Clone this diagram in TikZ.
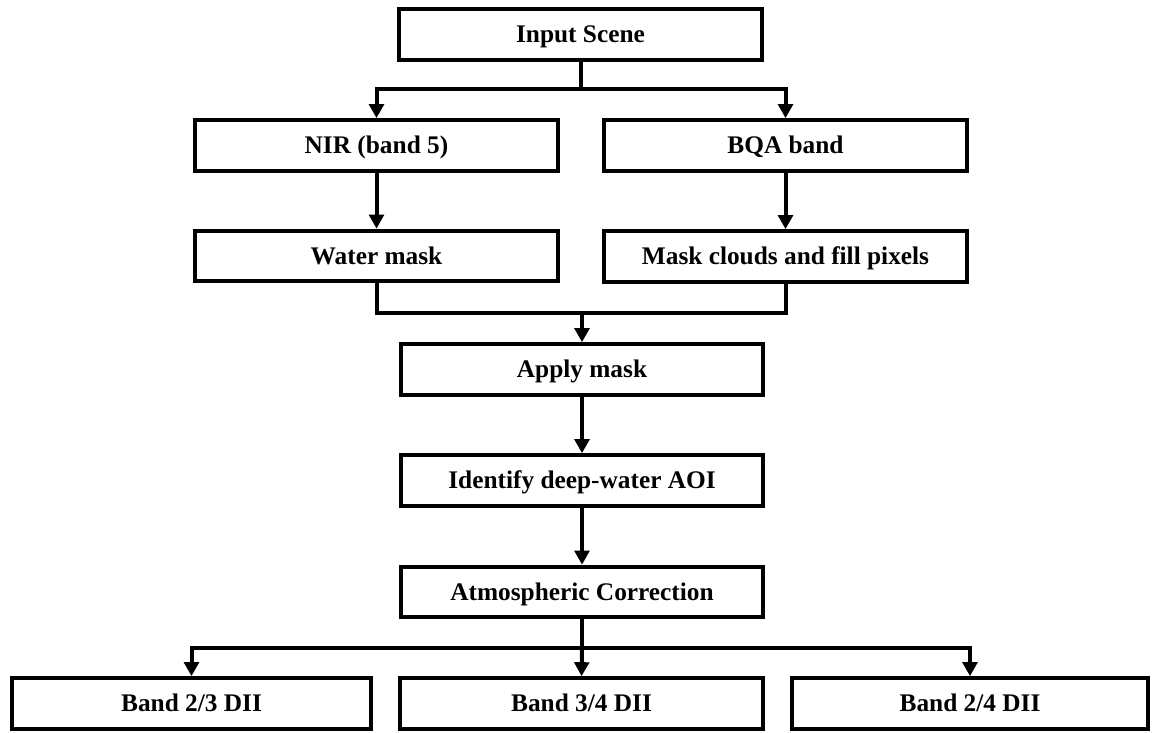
\documentclass[tikz,border=0pt]{standalone}
\usepackage{fontspec}
\setmainfont{Liberation Serif}
\usetikzlibrary{arrows.meta}
\tikzset{
  flowbox/.style={draw=black, line width=3pt, rectangle, fill=white,
    minimum width=272pt, minimum height=38pt, inner sep=0pt,
    text height=12.6pt, text depth=0pt,
    font=\fontsize{19}{22}\selectfont\bfseries},
  conn/.style={draw=black, line width=3pt},
  arr/.style={conn, -{Triangle[length=10.5pt,width=11pt]}}
}
\begin{document}
\begin{tikzpicture}[x=0.75pt, y=-0.75pt]
\useasboundingbox (0,0) rectangle (1153,732);
\node[flowbox] (in)  at (580.5,34.5) {Input Scene};
\node[flowbox] (nir) at (376.5,145.5) {NIR (band 5)};
\node[flowbox] (bqa) at (785.5,145.5) {BQA band};
\node[flowbox] (wat) at (376.5,256) {Water mask};
\node[flowbox] (msk) at (785.5,256.5) {Mask clouds and fill pixels};
\node[flowbox] (app) at (582,369.5) {Apply mask};
\node[flowbox] (idf) at (582,480.5) {Identify deep-water AOI};
\node[flowbox] (atm) at (582,592) {Atmospheric Correction};
\node[flowbox, minimum width=269pt] (b1) at (191.5,703.5) {Band 2/3 DII};
\node[flowbox] (b2) at (581.5,703.5) {Band 3/4 DII};
\node[flowbox, minimum width=267pt] (b3) at (970,703.5) {Band 2/4 DII};
\coordinate (s1) at (580.5,89);
\coordinate (m1) at (582,313);
\coordinate (s2) at (582,648);
\draw[conn] (in.south) -- (s1);
\draw[arr] (s1) -| (nir.north);
\draw[arr] (s1) -| (bqa.north);
\draw[arr] (nir.south) -- (wat.north);
\draw[arr] (bqa.south) -- (msk.north);
\draw[conn] (wat.south) |- (m1) -| (msk.south);
\draw[arr] (m1) -- (app.north);
\draw[arr] (app.south) -- (idf.north);
\draw[arr] (idf.south) -- (atm.north);
\draw[conn] (atm.south) -- (s2);
\draw[arr] (s2) -| (b1.north);
\draw[arr] (s2) -- (b2.north);
\draw[arr] (s2) -| (b3.north);
\end{tikzpicture}
\end{document}
